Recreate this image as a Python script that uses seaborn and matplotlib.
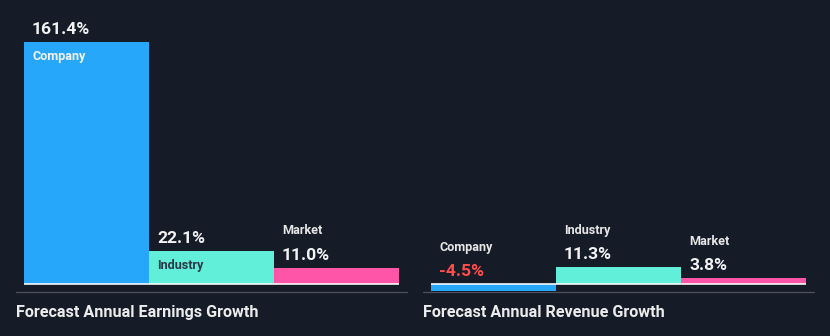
import matplotlib
matplotlib.use("Agg")
import matplotlib.pyplot as plt
from matplotlib.lines import Line2D
import seaborn as sns
import pandas as pd

# ---- data ----
categories = ["Company", "Industry", "Market"]
earnings_growth = [161.4, 22.1, 11.0]
revenue_growth = [-4.5, 11.3, 3.8]
panel_titles = ["Forecast Annual Earnings Growth", "Forecast Annual Revenue Growth"]

BG = "#151b27"
colors = {"Company": "#27a7f9", "Industry": "#61efd9", "Market": "#ff55a9"}

sns.set_style("dark")
plt.rcParams["font.family"] = ["Roboto", "DejaVu Sans"]

W, H = 830, 336
fig = plt.figure(figsize=(W / 100, H / 100), dpi=100, facecolor=BG)

PX = 1.5          # pixels per percentage point
base_px = 284     # baseline y (from top)
ax_top_px, ax_bot_px = 10, 300
ylim = (-(ax_bot_px - base_px) / PX, (base_px - ax_top_px) / PX)

def px_axes(left_px, width_px):
    return fig.add_axes([left_px / W, 1 - ax_bot_px / H, width_px / W,
                         (ax_bot_px - ax_top_px) / H])

PT = 0.72  # points per pixel

panels = [(24, earnings_growth), (431, revenue_growth)]
for (left_px, vals), title, line_x in zip(panels, panel_titles, [(16, 407), (423, 814)]):
    ax = px_axes(left_px, 375)
    ax.set_facecolor(BG)
    df = pd.DataFrame({"cat": categories, "val": vals})
    sns.barplot(data=df, x="cat", y="val", hue="cat", palette=colors,
                width=1.0, saturation=1, legend=False, ax=ax, linewidth=0)
    ax.set_xlim(-0.5, 2.5)
    ax.set_ylim(*ylim)
    ax.axhline(0, color="white", lw=1.6 * PT, zorder=5)
    ax.axis("off")

    for i, (cat, v) in enumerate(zip(categories, vals)):
        top = max(v, 0)
        height_px = abs(v) * PX
        vcol = "#ff4c4c" if v < 0 else "#f2f2f2"
        ax.annotate(f"{v:.1f}%", xy=(i - 0.5, top), xytext=(8 * PT, 8 * PT),
                    textcoords="offset points", ha="left", va="baseline",
                    fontsize=12.6, fontweight="bold", color=vcol)
        if v > 0 and height_px > 25:
            lcol = "#f2f2f2" if cat == "Company" else "#2b3a4a"
            ax.annotate(cat, xy=(i - 0.5, top), xytext=(8 * PT, -18 * PT),
                        textcoords="offset points", ha="left", va="baseline",
                        fontsize=9.1, fontweight="bold", color=lcol)
        else:
            ax.annotate(cat, xy=(i - 0.5, top), xytext=(8 * PT, 33.5 * PT),
                        textcoords="offset points", ha="left", va="baseline",
                        fontsize=9.1, fontweight="bold", color="#e6e6e6")

    fig.add_artist(Line2D([line_x[0] / W, line_x[1] / W], [1 - 292 / H] * 2,
                          color="#4d525d", lw=1.2 * PT))
    fig.text(line_x[0] / W, 1 - 317 / H, title, ha="left", va="baseline",
             fontsize=11.6, fontweight="bold", color="#ececec")

fig.savefig("out.png", dpi=100, facecolor=BG)
